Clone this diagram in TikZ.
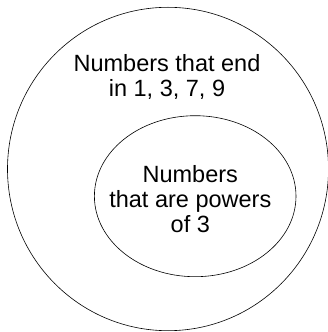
\documentclass[tikz,border=0pt]{standalone}
\usepackage{fontspec}
\setmainfont{Liberation Sans}
\usetikzlibrary{shapes.geometric}
\begin{document}
\begin{tikzpicture}[x=1pt,y=1pt,
    setline/.style={draw, ellipse, line width=0.6pt, inner sep=0pt},
    settext/.style={align=center, font=\fontsize{23.5}{25.3}\selectfont, inner sep=0pt}]
  \useasboundingbox (0,0) rectangle (328,332);
  \node[setline, minimum width=321pt, minimum height=323.4pt] (ends) at (168,163) {};
  \node[setline, minimum width=201.6pt, minimum height=161pt] (powers) at (195.2,135.8) {};

  \node[settext] (endstext) at (167,255) {Numbers that end\\in 1, 3, 7, 9};
  \node[settext] (powerstext) at (190.3,133) {Numbers\\that are powers\\of 3};
\end{tikzpicture}
\end{document}
